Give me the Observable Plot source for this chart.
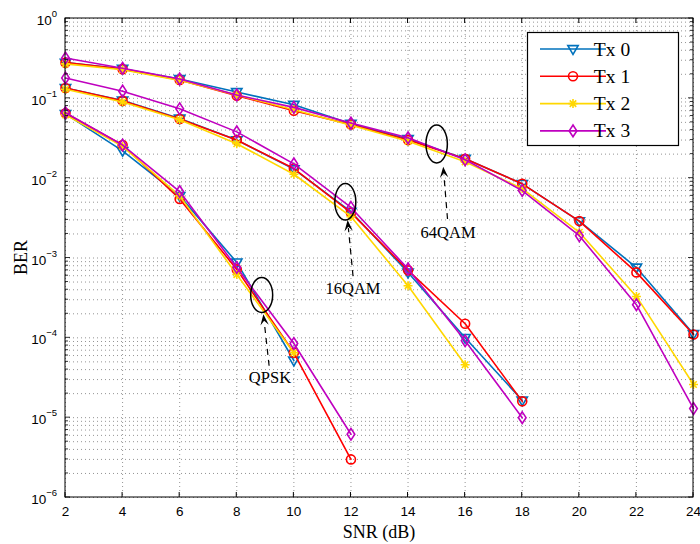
<!DOCTYPE html>
<html><head><meta charset="utf-8">
<script src="https://cdn.jsdelivr.net/npm/d3@7"></script>
<script src="https://cdn.jsdelivr.net/npm/@observablehq/plot@0.6"></script>
<style>body{margin:0;background:#fff;} #chart svg{display:block;}</style>
</head><body><div id="chart"></div>
<script>
// ---- data ----
const snr = [2, 4, 6, 8, 10, 12, 14, 16, 18, 20, 22, 24];
const seriesNames = ["Tx 0", "Tx 1", "Tx 2", "Tx 3"];
const seriesColors = ["#0072BD", "#FF0000", "#FFD700", "#BF00BF"];

// QPSK
const qpskTx0 = [0.064, 0.022, 0.0060, 8.8e-4, 5.2e-5];
const qpskTx1 = [0.065, 0.026, 0.0055, 7.2e-4, 6.5e-5, 3.0e-6];
const qpskTx2 = [0.062, 0.025, 0.0060, 6.2e-4, 6.5e-5];
const qpskTx3 = [0.066, 0.026, 0.0068, 7.6e-4, 8.5e-5, 6.2e-6];
// 16QAM
const qam16Tx0 = [0.135, 0.094, 0.056, 0.030, 0.0130, 0.0038, 6.6e-4, 1.0e-4, 1.65e-5];
const qam16Tx1 = [0.135, 0.093, 0.055, 0.030, 0.0132, 0.0037, 7.0e-4, 1.5e-4, 1.6e-5];
const qam16Tx2 = [0.130, 0.090, 0.054, 0.027, 0.0112, 0.0033, 4.5e-4, 4.6e-5];
const qam16Tx3 = [0.180, 0.123, 0.074, 0.038, 0.0151, 0.0043, 7.3e-4, 9.2e-5, 1.0e-5];
// 64QAM
const qam64Tx0 = [0.28, 0.235, 0.175, 0.120, 0.083, 0.048, 0.031, 0.0175, 0.0085, 0.0029, 7.6e-4, 1.12e-4];
const qam64Tx1 = [0.28, 0.232, 0.170, 0.108, 0.070, 0.047, 0.030, 0.0175, 0.0085, 0.0029, 6.6e-4, 1.1e-4];
const qam64Tx2 = [0.27, 0.228, 0.168, 0.110, 0.072, 0.046, 0.029, 0.0160, 0.0074, 0.0021, 3.3e-4, 2.6e-5];
const qam64Tx3 = [0.32, 0.238, 0.175, 0.110, 0.077, 0.049, 0.032, 0.0170, 0.0070, 0.0019, 2.6e-4, 1.3e-5];

const xTicks = snr;
const yDecades = [-6, -5, -4, -3, -2, -1, 0];
const annotations = [
  {label: "QPSK",  cx: 8.89,  cy: 3.4e-4, headX: 8.95,  headY: 1.95e-4, tailX: 9.15,  tailY: 4.4e-5,  textX: 9.18,  textY: 3.1e-5},
  {label: "16QAM", cx: 11.82, cy: 5.0e-3, headX: 11.90, headY: 2.94e-3, tailX: 12.09, tailY: 5.85e-4, textX: 12.09, textY: 4.0e-4},
  {label: "64QAM", cx: 15.02, cy: 0.0264, headX: 15.25, headY: 0.0137,  tailX: 15.40, tailY: 3.03e-3, textX: 15.42, textY: 2.02e-3}
];

// ---- build table ----
const groups = [
  {mod: "QPSK", arrays: [qpskTx0, qpskTx1, qpskTx2, qpskTx3]},
  {mod: "16QAM", arrays: [qam16Tx0, qam16Tx1, qam16Tx2, qam16Tx3]},
  {mod: "64QAM", arrays: [qam64Tx0, qam64Tx1, qam64Tx2, qam64Tx3]}
];
const rows = [];
groups.forEach(g => g.arrays.forEach((arr, s) => arr.forEach((v, i) => {
  rows.push({snr: snr[i], ber: v, series: s, key: g.mod + s});
})));

// ---- symbols ----
const rad = size => Math.sqrt(size / Math.PI);
const triDown = {draw(c, size) { const r = rad(size); c.moveTo(-r * 1.15, -r * 0.75); c.lineTo(r * 1.15, -r * 0.75); c.lineTo(0, r * 1.2); c.closePath(); }};
const circ = {draw(c, size) { const r = rad(size); c.moveTo(r, 0); c.arc(0, 0, r, 0, 2 * Math.PI); }};
const star = {draw(c, size) { const r = rad(size); const d = r * 0.72;
  c.moveTo(-r, 0); c.lineTo(r, 0); c.moveTo(0, -r); c.lineTo(0, r);
  c.moveTo(-d, -d); c.lineTo(d, d); c.moveTo(-d, d); c.lineTo(d, -d); }};
const diam = {draw(c, size) { const r = rad(size); c.moveTo(0, -r * 1.3); c.lineTo(r * 0.85, 0); c.lineTo(0, r * 1.3); c.lineTo(-r * 0.85, 0); c.closePath(); }};
const symbols = [triDown, circ, star, diam];

const W = 700, H = 544, mL = 65, mR = 7, mT = 18, mB = 47;
const sans = "'Liberation Sans', Arial, Helvetica, sans-serif";
const serif = "'Liberation Serif', 'Times New Roman', serif";

const minorVals = [];
for (let e = -6; e < 0; e++) for (let k = 1; k <= 9; k++) minorVals.push(k * Math.pow(10, e));
minorVals.push(1);

function decorations(index, scales) {
  const {x, y} = scales;
  const g = d3.create("svg:g");
  const x0 = mL, x1 = W - mR, y0 = mT, y1 = H - mB;
  // frame
  g.append("rect").attr("x", x0).attr("y", y0).attr("width", x1 - x0).attr("height", y1 - y0)
    .attr("fill", "none").attr("stroke", "#000").attr("stroke-width", 1);
  // inner ticks
  xTicks.forEach(t => {
    const px = x(t);
    g.append("line").attr("x1", px).attr("x2", px).attr("y1", y1).attr("y2", y1 - 5).attr("stroke", "#000");
    g.append("line").attr("x1", px).attr("x2", px).attr("y1", y0).attr("y2", y0 + 5).attr("stroke", "#000");
  });
  minorVals.forEach(v => {
    const py = y(v);
    const major = Math.abs(Math.log10(v) - Math.round(Math.log10(v))) < 1e-9;
    const L = major ? 5 : 3;
    g.append("line").attr("x1", x0).attr("x2", x0 + L).attr("y1", py).attr("y2", py).attr("stroke", "#000").attr("stroke-width", 0.8);
    g.append("line").attr("x1", x1).attr("x2", x1 - L).attr("y1", py).attr("y2", py).attr("stroke", "#000").attr("stroke-width", 0.8);
  });
  // y tick labels
  yDecades.forEach(e => {
    const py = y(Math.pow(10, e));
    const t = g.append("text").attr("x", 57).attr("y", py + 7).attr("text-anchor", "end")
      .attr("font-family", sans).attr("font-size", 13.5).attr("fill", "#000");
    t.append("tspan").text("10");
    t.append("tspan").attr("dy", -8).attr("font-size", 9.5).text(e === 0 ? "0" : "\u2212" + (-e));
  });
  // axis labels
  g.append("text").attr("x", (x0 + x1) / 2).attr("y", 538).attr("text-anchor", "middle")
    .attr("font-family", serif).attr("font-size", 18).text("SNR (dB)");
  g.append("text").attr("transform", `translate(27,${(y0 + y1) / 2}) rotate(-90)`).attr("text-anchor", "middle")
    .attr("font-family", serif).attr("font-size", 18).text("BER");
  return g.node();
}

function annots(index, scales) {
  const {x, y} = scales;
  const g = d3.create("svg:g");
  const rxs = [11, 10.5, 10.7], rys = [17.5, 18.3, 19];
  annotations.forEach((a, i) => {
    g.append("ellipse").attr("cx", x(a.cx)).attr("cy", y(a.cy)).attr("rx", rxs[i]).attr("ry", rys[i])
      .attr("fill", "none").attr("stroke", "#000").attr("stroke-width", 1.5);
    const hx = x(a.headX), hy = y(a.headY), tx = x(a.tailX), ty = y(a.tailY);
    const ang = Math.atan2(hy - ty, hx - tx);
    const L = 11, Wd = 4.2;
    const ux = Math.cos(ang), uy = Math.sin(ang), nx = -uy, ny = ux;
    const bx = hx - ux * L, by = hy - uy * L;
    g.append("line").attr("x1", tx).attr("y1", ty).attr("x2", bx + ux * 3).attr("y2", by + uy * 3)
      .attr("stroke", "#000").attr("stroke-width", 1.2).attr("stroke-dasharray", "6,5");
    const nb = 0.6; // notch
    g.append("path").attr("d",
      `M${hx},${hy} L${bx + nx * Wd},${by + ny * Wd} L${hx - ux * L * nb},${hy - uy * L * nb} L${bx - nx * Wd},${by - ny * Wd} Z`)
      .attr("fill", "#000");
    g.append("text").attr("x", x(a.textX)).attr("y", y(a.textY) + 5).attr("text-anchor", "middle")
      .attr("font-family", serif).attr("font-size", 16.5).text(a.label);
  });
  return g.node();
}

function legend() {
  const g = d3.create("svg:g");
  const bx = 527.5, by = 32.5, bw = 151, bh = 113;
  g.append("rect").attr("x", bx).attr("y", by).attr("width", bw).attr("height", bh)
    .attr("fill", "#fff").attr("stroke", "#000").attr("stroke-width", 1.2);
  seriesNames.forEach((name, i) => {
    const cy = 49 + i * 27.3;
    g.append("line").attr("x1", 540).attr("x2", 606).attr("y1", cy).attr("y2", cy)
      .attr("stroke", seriesColors[i]).attr("stroke-width", 1.6);
    const sym = d3.symbol(symbols[i], 4.5 * 4.5 * Math.PI);
    g.append("path").attr("d", sym()).attr("transform", `translate(573,${cy})`)
      .attr("fill", "none").attr("stroke", seriesColors[i]).attr("stroke-width", 1.6);
    g.append("text").attr("x", 612).attr("y", cy + 6.5).attr("font-family", serif).attr("font-size", 19.5).text(name);
  });
  return g.node();
}

const lineMarks = seriesNames.map((n, s) => Plot.line(rows.filter(d => d.series === s), {
  x: "snr", y: "ber", z: "key", stroke: seriesColors[s], strokeWidth: 1.6
}));
const dotMarks = seriesNames.map((n, s) => Plot.dot(rows.filter(d => d.series === s), {
  x: "snr", y: "ber", symbol: symbols[s], r: 4.5, stroke: seriesColors[s], strokeWidth: 1.6, fill: "none"
}));
const markOrder = [];
seriesNames.forEach((n, s) => { markOrder.push(lineMarks[s], dotMarks[s]); });

const chart = Plot.plot({
  width: W, height: H,
  marginLeft: mL, marginRight: mR, marginTop: mT, marginBottom: mB,
  style: {background: "#fff", fontFamily: sans},
  x: {domain: [2, 24], ticks: xTicks, label: null},
  y: {type: "log", domain: [1e-6, 1], label: null},
  marks: [
    Plot.ruleY(minorVals, {stroke: "#888", strokeWidth: 0.9, strokeDasharray: "1,3"}),
    Plot.ruleX(xTicks, {stroke: "#888", strokeWidth: 0.9, strokeDasharray: "1,3"}),
    Plot.axisX(xTicks, {tickSize: 0, tickPadding: 9, fontSize: 13.5, fill: "#000", label: null}),
    Plot.axisY({ticks: [], tickSize: 0, label: null}),
    ...markOrder,
    annots,
    legend,
    decorations
  ]
});
document.getElementById("chart").appendChild(chart);
</script>
</body></html>
